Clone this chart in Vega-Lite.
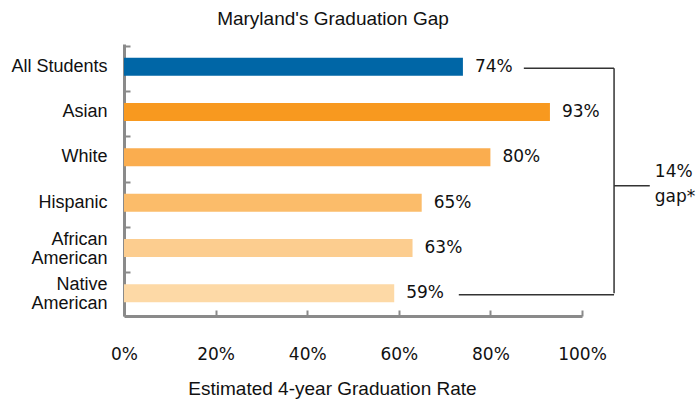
{
  "$schema": "https://vega.github.io/schema/vega-lite/v6.json",
  "width": 458,
  "height": 272,
  "autosize": {"type": "none"},
  "padding": {"left": 124, "top": 44, "right": 114, "bottom": 84},
  "background": "white",
  "config": {"view": {"stroke": null}},
  "title": {
    "text": "Maryland's Graduation Gap",
    "font": "Liberation Sans",
    "fontSize": 19,
    "fontWeight": "normal",
    "color": "#111111",
    "baseline": "alphabetic",
    "offset": 0,
    "dx": -20
  },
  "datasets": {
    "main": [
      {"Group": "All Students", "Rate": 0.74},
      {"Group": "Asian", "Rate": 0.93},
      {"Group": "White", "Rate": 0.80},
      {"Group": "Hispanic", "Rate": 0.65},
      {"Group": "African American", "Rate": 0.63},
      {"Group": "Native American", "Rate": 0.59}
    ],
    "hlines": [
      {"Group": "All Students", "x1": 0.873, "x2": 1.07},
      {"Group": "Native American", "x1": 0.731, "x2": 1.07}
    ],
    "vline": [
      {"Group": "All Students", "Group2": "Native American", "x1": 1.07}
    ],
    "mid": [
      {"Group": "Hispanic", "x1": 1.07, "x2": 1.148, "label": "14%\ngap*"}
    ]
  },
  "layer": [
    {
      "data": {"name": "main"},
      "mark": {"type": "bar", "size": 18},
      "encoding": {
        "y": {
          "field": "Group",
          "type": "nominal",
          "sort": null,
          "scale": {"domain": ["All Students", "Asian", "White", "Hispanic", "African American", "Native American"]},
          "axis": {
            "title": null,
            "bandPosition": 0,
            "labelFont": "Liberation Sans",
            "labelFontSize": 18,
            "labelColor": "#111111",
            "labelPadding": 23,
            "labelLineHeight": 19,
            "labelOffset": {"condition": {"test": "indexof(datum.label, 'American') > 0", "value": -8.5}, "value": 0},
            "labelExpr": "indexof(datum.label, 'American') > 0 ? split(datum.label, ' ') : datum.label",
            "domainColor": "#8a8a8a",
            "domainWidth": 3,
            "tickColor": "#8a8a8a",
            "tickWidth": 2,
            "tickSize": -6
          }
        },
        "x": {
          "field": "Rate",
          "type": "quantitative",
          "scale": {"domain": [0, 1], "nice": false},
          "axis": {
            "title": "Estimated 4-year Graduation Rate",
            "values": [0, 0.2, 0.4, 0.6, 0.8, 1],
            "format": ".0%",
            "grid": false,
            "labelFlush": false,
            "labelFont": "DejaVu Sans",
            "labelFontSize": 17,
            "labelColor": "#111111",
            "labelPadding": 36,
            "domainColor": "#8a8a8a",
            "domainWidth": 3,
            "tickColor": "#8a8a8a",
            "tickWidth": 2,
            "tickSize": -6,
            "titleFont": "Liberation Sans",
            "titleFontSize": 19,
            "titleFontWeight": "normal",
            "titleColor": "#111111",
            "titleBaseline": "alphabetic",
            "titleX": 208,
            "titleY": 78
          }
        },
        "color": {
          "field": "Group",
          "type": "nominal",
          "legend": null,
          "scale": {
            "domain": ["All Students", "Asian", "White", "Hispanic", "African American", "Native American"],
            "range": ["#0066a6", "#f8991f", "#faad4f", "#fbbc6a", "#fccd8f", "#fdd9a6"]
          }
        }
      }
    },
    {
      "data": {"name": "main"},
      "mark": {"type": "text", "align": "left", "baseline": "middle", "dx": 12, "font": "DejaVu Sans", "fontSize": 17, "color": "#111111"},
      "encoding": {
        "y": {"field": "Group", "type": "nominal", "sort": null},
        "x": {"field": "Rate", "type": "quantitative"},
        "text": {"field": "Rate", "type": "quantitative", "format": ".0%"}
      }
    },
    {
      "data": {"name": "hlines"},
      "mark": {"type": "rule", "color": "#333333", "strokeWidth": 1.5, "yOffset": 1.5},
      "encoding": {
        "y": {"field": "Group", "type": "nominal", "sort": null},
        "x": {"field": "x1", "type": "quantitative"},
        "x2": {"field": "x2"}
      }
    },
    {
      "data": {"name": "vline"},
      "mark": {"type": "rule", "color": "#333333", "strokeWidth": 1.5, "yOffset": 1.5},
      "encoding": {
        "y": {"field": "Group", "type": "nominal", "sort": null},
        "y2": {"field": "Group2"},
        "x": {"field": "x1", "type": "quantitative"}
      }
    },
    {
      "data": {"name": "mid"},
      "mark": {"type": "rule", "color": "#333333", "strokeWidth": 1.5, "yOffset": 3.5},
      "encoding": {
        "y": {"field": "Group", "type": "nominal", "sort": null, "bandPosition": 0},
        "x": {"field": "x1", "type": "quantitative"},
        "x2": {"field": "x2"}
      }
    },
    {
      "data": {"name": "mid"},
      "mark": {"type": "text", "align": "left", "baseline": "alphabetic", "dy": -5, "lineBreak": "\n", "lineHeight": 25, "font": "DejaVu Sans", "fontSize": 17, "color": "#111111"},
      "encoding": {
        "y": {"field": "Group", "type": "nominal", "sort": null, "bandPosition": 0},
        "x": {"datum": 1.159, "type": "quantitative"},
        "text": {"field": "label"}
      }
    }
  ]
}
